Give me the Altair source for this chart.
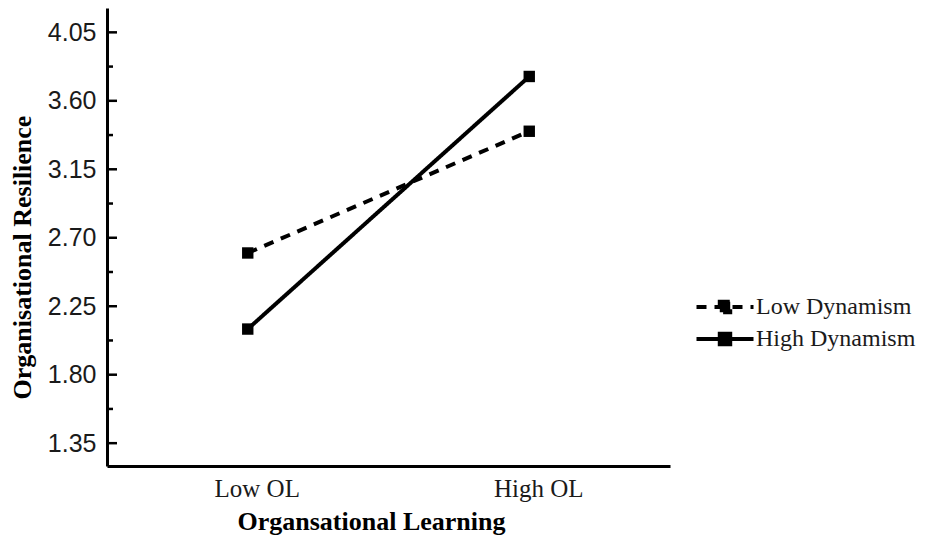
import altair as alt
import pandas as pd

categories = ["Low OL", "High OL"]
series_names = ["Low Dynamism", "High Dynamism"]
low_dynamism = [2.60, 3.40]
high_dynamism = [2.10, 3.76]
major_ticks = [1.35, 1.80, 2.25, 2.70, 3.15, 3.60, 4.05]
minor_ticks = [1.575, 2.025, 2.475, 2.925, 3.375, 3.825]

rows = []
for name, vals in zip(series_names, [low_dynamism, high_dynamism]):
    for c, v in zip(categories, vals):
        rows.append({"OL": c, "Series": name, "Resilience": v})
df = pd.DataFrame(rows)

W, H = 563, 458
YDOM = [1.2, 4.21]
TXT = "#1a1a1a"

xenc = alt.X(
    "OL:N",
    sort=categories,
    scale=alt.Scale(type="point", padding=0.5),
    axis=alt.Axis(
        title="Organsational Learning",
        labelFont="Liberation Serif", labelFontSize=25, labelColor=TXT,
        labelAngle=0, labelPadding=10, labelOffset=9, ticks=False,
        domainColor="black", domainWidth=3,
        titleFont="Liberation Serif", titleFontSize=26, titleFontWeight="bold",
        titleColor="black", titleX=264, titleY=63, titleBaseline="alphabetic",
        titleAlign="center",
    ),
)
yscale = alt.Scale(domain=YDOM, nice=False, zero=False)
yenc = alt.Y(
    "Resilience:Q",
    scale=yscale,
    axis=alt.Axis(
        title="Organisational Resilience",
        values=major_ticks, format=".2f", ticks=False,
        labelFont="Liberation Sans", labelFontSize=25, labelColor=TXT,
        labelPadding=11, grid=False,
        domainColor="black", domainWidth=3,
        titleFont="Liberation Serif", titleFontSize=26, titleFontWeight="bold",
        titleColor="black", titleX=-85, titleY=249, titleBaseline="middle",
        titleAlign="center", titleAngle=-90,
    ),
)

legend_path = "M-3,0H3M-0.55,-0.55H0.55V0.55H-0.55Z"

lines = alt.Chart(df).mark_line(strokeWidth=4, color="black").encode(
    x=xenc,
    y=yenc,
    strokeDash=alt.StrokeDash(
        "Series:N",
        sort=series_names,
        scale=alt.Scale(domain=series_names, range=[[10, 8], [1, 0]]),
        legend=alt.Legend(
            title=None, orient="none", legendX=606, legendY=287,
            symbolType=legend_path, symbolSize=361, symbolStrokeWidth=4,
            symbolStrokeColor="black", symbolFillColor="black",
            labelFont="Liberation Serif", labelFontSize=24, labelColor=TXT,
            labelOffset=19, rowPadding=4, labelLimit=400,
        ),
    ),
)
points = alt.Chart(df).mark_point(
    shape="square", filled=True, size=130, color="black", opacity=1
).encode(x=alt.X("OL:N", sort=categories), y=alt.Y("Resilience:Q"), detail="Series:N")

major = alt.Chart(pd.DataFrame({"v": major_ticks})).mark_rule(
    color="black", strokeWidth=2.5
).encode(y=alt.Y("v:Q"), x=alt.value(0), x2=alt.value(10))
minor = alt.Chart(pd.DataFrame({"v": minor_ticks})).mark_rule(
    color="black", strokeWidth=2.5
).encode(y=alt.Y("v:Q"), x=alt.value(0), x2=alt.value(6))

chart = alt.layer(lines, points, major, minor).properties(
    width=W, height=H,
    background="white",
    autosize=alt.AutoSizeParams(type="none"),
    padding={"left": 99, "top": 0, "right": 250, "bottom": 71},
).configure_view(stroke=None)

chart.save("out.html", embed_options={"renderer": "svg", "actions": False})
